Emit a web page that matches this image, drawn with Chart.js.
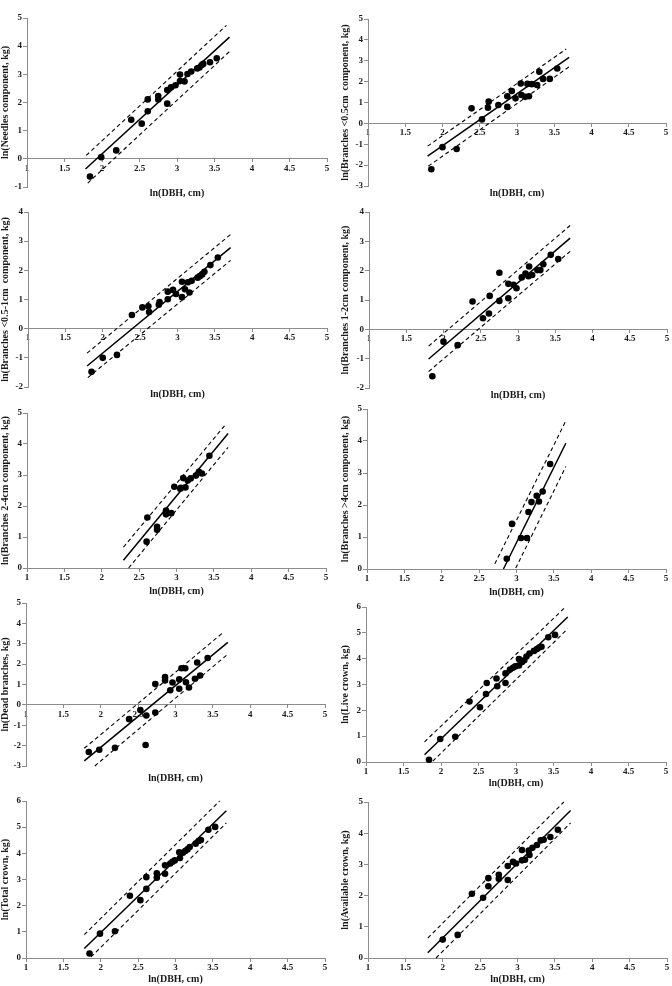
<!DOCTYPE html>
<html><head><meta charset="utf-8">
<script src="https://cdn.jsdelivr.net/npm/chart.js@4.4.0/dist/chart.umd.min.js"></script>
<style>
html,body{margin:0;padding:0;background:#fff;}
body{width:672px;height:986px;position:relative;overflow:hidden;}
canvas.cv{position:absolute;}
</style></head><body>
<script>
// ---------- tick labels ----------
const xTickLabels = ['1','1.5','2','2.5','3','3.5','4','4.5','5'];
const xTitle = 'ln(DBH, cm)';

// ---------- Panel 1: Needles ----------
const needlesX = [1.84,1.99,2.19,2.39,2.53,2.61,2.61,2.75,2.75,2.87,2.87,2.92,2.98,3.04,3.04,3.10,3.14,3.19,3.27,3.30,3.33,3.35,3.44,3.53];
const needlesY = [-0.63,0.06,0.30,1.39,1.25,1.69,2.11,2.23,2.11,2.44,1.96,2.54,2.61,2.99,2.76,2.75,3.01,3.10,3.21,3.24,3.33,3.37,3.43,3.57];
const needlesFitX = [1.78,3.70], needlesFitY = [-0.36,4.32];
const needlesUpX = [1.79,3.66], needlesUpY = [0.12,4.74];
const needlesLoX = [1.81,3.70], needlesLoY = [-0.86,3.81];

// ---------- Panel 2: Branches <0.5cm ----------
const br05X = [1.85,2.00,2.19,2.39,2.53,2.61,2.62,2.75,2.87,2.87,2.93,2.98,3.05,3.06,3.11,3.14,3.16,3.20,3.27,3.30,3.35,3.44,3.54];
const br05Y = [-2.20,-1.14,-1.23,0.72,0.19,0.75,1.04,0.88,0.79,1.30,1.55,1.20,1.91,1.36,1.27,1.89,1.30,1.88,1.84,2.47,2.13,2.13,2.63];
const br05FitX = [1.80,3.70], br05FitY = [-1.57,3.16];
const br05UpX = [1.80,3.66], br05UpY = [-1.09,3.56];
const br05LoX = [1.81,3.70], br05LoY = [-2.05,2.71];

// ---------- Panel 3: Branches 0.5-1cm ----------
const br1X = [1.85,2.00,2.19,2.39,2.53,2.61,2.62,2.75,2.76,2.87,2.87,2.94,2.98,3.06,3.06,3.10,3.14,3.16,3.19,3.27,3.30,3.33,3.36,3.44,3.54];
const br1Y = [-1.48,-1.00,-0.90,0.47,0.73,0.77,0.57,0.82,0.91,1.27,1.01,1.33,1.19,1.61,1.08,1.35,1.59,1.24,1.64,1.75,1.80,1.86,1.95,2.18,2.44];
const br1FitX = [1.79,3.71], br1FitY = [-1.28,2.78];
const br1UpX = [1.79,3.71], br1UpY = [-0.84,3.23];
const br1LoX = [1.80,3.71], br1LoY = [-1.68,2.34];

// ---------- Panel 4: Branches 1-2cm ----------
const br2X = [1.85,2.00,2.19,2.39,2.53,2.61,2.62,2.75,2.75,2.87,2.87,2.94,2.98,3.05,3.10,3.14,3.15,3.19,3.26,3.30,3.34,3.44,3.54];
const br2Y = [-1.60,-0.42,-0.54,0.95,0.38,0.54,1.14,1.93,0.97,1.55,1.06,1.52,1.40,1.77,1.90,1.81,2.14,1.85,2.02,2.02,2.22,2.54,2.40];
const br2FitX = [1.80,3.70], br2FitY = [-1.01,3.11];
const br2UpX = [1.80,3.70], br2UpY = [-0.57,3.54];
const br2LoX = [1.80,3.70], br2LoY = [-1.44,2.66];

// ---------- Panel 5: Branches 2-4cm ----------
const br4X = [2.60,2.61,2.74,2.74,2.86,2.86,2.93,2.97,3.05,3.06,3.09,3.12,3.15,3.19,3.26,3.30,3.34,3.44];
const br4Y = [0.85,1.63,1.23,1.33,1.73,1.85,1.77,2.62,2.56,2.59,2.90,2.60,2.82,2.89,2.98,3.10,3.05,3.62];
const br4FitX = [2.29,3.69], br4FitY = [0.25,4.34];
const br4UpX = [2.29,3.66], br4UpY = [0.67,4.64];
const br4LoX = [2.36,3.69], br4LoY = [0.00,3.89];

// ---------- Panel 6: Branches >4cm ----------
const brBigX = [2.87,2.94,3.06,3.14,3.16,3.20,3.27,3.30,3.35,3.45];
const brBigY = [0.32,1.41,0.97,0.97,1.78,2.09,2.29,2.11,2.42,3.28];
const brBigFitX = [2.825,3.66], brBigFitY = [0.00,3.93];
const brBigUpX = [2.71,3.66], brBigUpY = [0.16,4.63];
const brBigLoX = [2.99,3.66], brBigLoY = [0.03,3.20];

// ---------- Panel 7: Dead branches ----------
const deadX = [1.84,1.98,2.19,2.38,2.53,2.60,2.61,2.73,2.73,2.86,2.86,2.93,2.96,3.05,3.05,3.08,3.13,3.14,3.18,3.26,3.29,3.33,3.43];
const deadY = [-2.31,-2.20,-2.11,-0.70,-0.25,-1.97,-0.52,1.02,-0.38,1.36,1.20,0.72,1.10,0.79,1.25,1.80,1.80,1.11,0.85,1.28,2.08,1.44,2.30];
const deadFitX = [1.78,3.70], deadFitY = [-2.75,3.07];
const deadUpX = [1.78,3.65], deadUpY = [-2.13,3.59];
const deadLoX = [1.92,3.70], deadLoY = [-3.00,2.49];

// ---------- Panel 8: Live crown ----------
const liveX = [1.84,1.99,2.19,2.38,2.52,2.60,2.61,2.74,2.75,2.86,2.86,2.92,2.96,2.99,3.04,3.04,3.08,3.11,3.14,3.18,3.24,3.28,3.31,3.34,3.43,3.52];
const liveY = [0.09,0.89,0.98,2.34,2.12,2.63,3.06,3.23,2.93,3.43,3.06,3.58,3.65,3.70,3.74,3.99,3.87,3.94,4.08,4.20,4.30,4.37,4.43,4.46,4.83,4.92];
const liveFitX = [1.78,3.69], liveFitY = [0.28,5.61];
const liveUpX = [1.78,3.66], liveUpY = [0.78,6.00];
const liveLoX = [1.89,3.69], liveLoY = [0.03,5.16];

// ---------- Panel 9: Total crown ----------
const totalX = [1.85,1.99,2.19,2.39,2.53,2.61,2.61,2.75,2.75,2.86,2.86,2.93,2.96,2.99,3.05,3.06,3.10,3.13,3.16,3.19,3.27,3.31,3.34,3.44,3.53];
const totalY = [0.17,0.93,1.02,2.38,2.21,2.64,3.09,3.24,3.07,3.54,3.22,3.61,3.68,3.73,4.04,3.82,4.02,4.09,4.15,4.24,4.37,4.47,4.51,4.90,5.01];
const totalFitX = [1.78,3.68], totalFitY = [0.36,5.63];
const totalUpX = [1.78,3.59], totalUpY = [0.89,6.00];
const totalLoX = [1.87,3.68], totalLoY = [0.04,5.16];

// ---------- Panel 10: Available crown ----------
const availX = [2.00,2.20,2.39,2.54,2.61,2.61,2.75,2.75,2.87,2.87,2.94,2.98,3.06,3.06,3.10,3.15,3.16,3.20,3.26,3.31,3.35,3.44,3.54];
const availY = [0.59,0.74,2.06,1.93,2.56,2.30,2.67,2.54,2.95,2.50,3.08,3.03,3.46,3.13,3.15,3.44,3.30,3.53,3.62,3.77,3.79,3.88,4.11];
const availFitX = [1.80,3.71], availFitY = [0.17,4.73];
const availUpX = [1.80,3.62], availUpY = [0.64,5.00];
const availLoX = [1.91,3.71], availLoY = [0.00,4.33];

// ---------- panel definitions ----------
const panels = [
  {yTitle:'ln(Needles component, kg)', yMin:-1, yMax:5, x:needlesX, y:needlesY, fx:needlesFitX, fy:needlesFitY, ux:needlesUpX, uy:needlesUpY, lx:needlesLoX, ly:needlesLoY},
  {yTitle:'ln(Branches <0.5cm  component, kg)', yMin:-3, yMax:5, x:br05X, y:br05Y, fx:br05FitX, fy:br05FitY, ux:br05UpX, uy:br05UpY, lx:br05LoX, ly:br05LoY},
  {yTitle:'ln(Branches <0.5-1cm  component, kg)', yMin:-2, yMax:4, x:br1X, y:br1Y, fx:br1FitX, fy:br1FitY, ux:br1UpX, uy:br1UpY, lx:br1LoX, ly:br1LoY},
  {yTitle:'ln(Branches 1-2cm component, kg)', yMin:-2, yMax:4, x:br2X, y:br2Y, fx:br2FitX, fy:br2FitY, ux:br2UpX, uy:br2UpY, lx:br2LoX, ly:br2LoY},
  {yTitle:'ln(Branches 2-4cm component, kg)', yMin:0, yMax:5, x:br4X, y:br4Y, fx:br4FitX, fy:br4FitY, ux:br4UpX, uy:br4UpY, lx:br4LoX, ly:br4LoY},
  {yTitle:'ln(Branches >4cm component, kg)', yMin:0, yMax:5, x:brBigX, y:brBigY, fx:brBigFitX, fy:brBigFitY, ux:brBigUpX, uy:brBigUpY, lx:brBigLoX, ly:brBigLoY},
  {yTitle:'ln(Dead branches, kg)', yMin:-3, yMax:5, x:deadX, y:deadY, fx:deadFitX, fy:deadFitY, ux:deadUpX, uy:deadUpY, lx:deadLoX, ly:deadLoY},
  {yTitle:'ln(Live crown, kg)', yMin:0, yMax:6, x:liveX, y:liveY, fx:liveFitX, fy:liveFitY, ux:liveUpX, uy:liveUpY, lx:liveLoX, ly:liveLoY},
  {yTitle:'ln(Total crown, kg)', yMin:0, yMax:6, x:totalX, y:totalY, fx:totalFitX, fy:totalFitY, ux:totalUpX, uy:totalUpY, lx:totalLoX, ly:totalLoY},
  {yTitle:'ln(Available crown, kg)', yMin:0, yMax:5, x:availX, y:availY, fx:availFitX, fy:availFitY, ux:availUpX, uy:availUpY, lx:availLoX, ly:availLoY}
];

// ---------- layout (page pixels) ----------
const layouts = [
  {col:0,   L:27,  R:327, T:18,  B:187, tY:193, yt:0},
  {col:336, L:368, R:666, T:19,  B:186, tY:193, yt:4},
  {col:0,   L:28,  R:327, T:212, B:387, tY:394, yt:0},
  {col:336, L:369, R:667, T:212, B:388, tY:395, yt:4},
  {col:0,   L:27,  R:326, T:413, B:568, tY:591, yt:0},
  {col:336, L:367, R:666, T:409, B:569, tY:592, yt:4},
  {col:0,   L:26,  R:325, T:603, B:766, tY:778, yt:0},
  {col:336, L:366, R:666, T:607, B:762, tY:783, yt:4},
  {col:0,   L:26,  R:325, T:801, B:958, tY:979, yt:0},
  {col:336, L:368, R:667, T:802, B:958, tY:979, yt:4}
];

const FONT = '"Liberation Serif","Times New Roman",serif';
const TXT = '#1a1a1a';
const AXC = '#8c8c8c';

function zip(xs, ys) { return xs.map((v, i) => ({x: v, y: ys[i]})); }

function makeChart(p, lay) {
  const top = lay.T - 10;
  const H = lay.tY + 5 - top;
  const gap = lay.tY - 5 - lay.B;
  const c = document.createElement('canvas');
  c.className = 'cv';
  c.style.left = lay.col + 'px';
  c.style.top = top + 'px';
  c.style.width = '336px';
  c.style.height = H + 'px';
  c.width = 336; c.height = H;
  document.body.appendChild(c);
  const lineDash = {showLine: true, borderColor: '#000', borderWidth: 1.1, borderDash: [4, 3], pointRadius: 0, clip: false};
  new Chart(c, {
    type: 'scatter',
    data: {datasets: [
      Object.assign({data: zip(p.ux, p.uy)}, lineDash),
      Object.assign({data: zip(p.lx, p.ly)}, lineDash),
      {data: zip(p.fx, p.fy), showLine: true, borderColor: '#000', borderWidth: 1.5, pointRadius: 0, clip: false},
      {data: zip(p.x, p.y), pointRadius: 3.3, pointStyle: 'circle', backgroundColor: '#000', borderColor: '#000', borderWidth: 0, clip: false}
    ]},
    options: {
      responsive: false, animation: false, devicePixelRatio: 1,
      layout: {padding: {top: 10, left: 0, right: lay.col + 336 - lay.R, bottom: 0}},
      plugins: {
        legend: {display: false}, tooltip: {enabled: false},
        title: {display: true, position: 'bottom', fullSize: false, text: xTitle, color: TXT,
                font: {family: FONT, size: 10, weight: 'bold', lineHeight: 1}, padding: {top: gap, bottom: 0}}
      },
      scales: {
        x: {
          type: 'linear', min: 1, max: 5, position: {y: 0},
          afterFit: s => { s.height = 0; },
          ticks: {stepSize: 0.5, autoSkip: false, maxRotation: 0, padding: 1, color: TXT,
                  font: {family: FONT, size: 9, weight: 'bold'},
                  callback: (v, i) => xTickLabels[i]},
          grid: {display: true, drawOnChartArea: false, drawTicks: true, tickLength: 3, color: AXC},
          border: {display: true, color: AXC, width: 1}
        },
        y: {
          type: 'linear', min: p.yMin, max: p.yMax, position: 'left',
          afterFit: s => { s.width = lay.L - lay.col; },
          ticks: {stepSize: 1, padding: 1, color: TXT, font: {family: FONT, size: 9, weight: 'bold'}},
          title: {display: true, text: p.yTitle, color: TXT,
                  font: {family: FONT, size: 10, weight: 'bold', lineHeight: 1}, padding: {top: lay.yt, bottom: 0}},
          grid: {display: true, drawOnChartArea: false, drawTicks: true, tickLength: 4, color: AXC},
          border: {display: true, color: AXC, width: 1}
        }
      }
    }
  });
}

panels.forEach((p, i) => makeChart(p, layouts[i]));
</script>
</body></html>
